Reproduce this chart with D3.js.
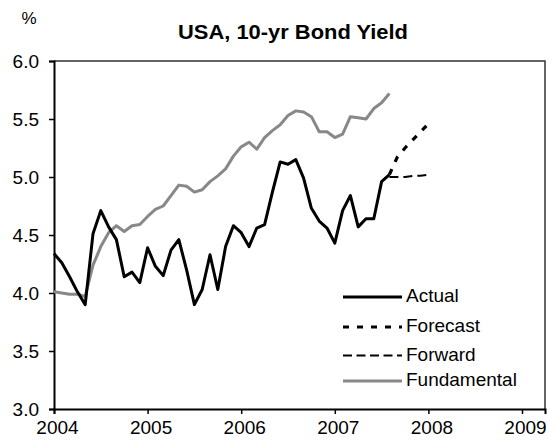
<!DOCTYPE html>
<html>
<head>
<meta charset="utf-8">
<script src="https://cdn.jsdelivr.net/npm/d3@7"></script>
<style>
  body { margin: 0; background: #fff; }
  svg { font-family: "Liberation Sans", Arial, sans-serif; }
</style>
</head>
<body>
<svg id="chart" width="548" height="445"></svg>
<script>
// monthly observations, Jan 2004 onwards
const startYear = 2004;
const actual = [4.34, 4.26, 4.14, 4.01, 3.90, 4.51, 4.71, 4.57, 4.46, 4.14, 4.18, 4.09,
                4.39, 4.23, 4.15, 4.37, 4.46, 4.20, 3.90, 4.03, 4.33, 4.03, 4.40, 4.58,
                4.52, 4.40, 4.56, 4.59, 4.87, 5.13, 5.11, 5.15, 4.99, 4.73, 4.62, 4.56,
                4.43, 4.71, 4.84, 4.57, 4.64, 4.64, 4.96, 5.02];
const fundamental = [4.01, 4.00, 3.99, 3.99, 3.97, 4.24, 4.40, 4.52, 4.58, 4.53, 4.58, 4.59,
                     4.66, 4.72, 4.75, 4.84, 4.93, 4.92, 4.87, 4.89, 4.96, 5.01, 5.07, 5.18,
                     5.26, 5.30, 5.24, 5.34, 5.40, 5.45, 5.53, 5.57, 5.56, 5.52, 5.39, 5.39,
                     5.34, 5.37, 5.52, 5.51, 5.50, 5.59, 5.64, 5.72];
// Aug 2007 .. Jan 2008
const projStart = 43;
const forecast = [5.02, 5.17, 5.25, 5.32, 5.39, 5.46];
const forward = [5.00, 5.00, 5.00, 5.01, 5.01, 5.02];

const yearTicks = [2004, 2005, 2006, 2007, 2008, 2009];
const valueTicks = [3.0, 3.5, 4.0, 4.5, 5.0, 5.5, 6.0];

const svg = d3.select("#chart");
const margin = {top: 61, right: 3, bottom: 36, left: 54};
const width = 548 - margin.left - margin.right;
const height = 445 - margin.top - margin.bottom;

const x = d3.scaleLinear().domain([2004, 2009 + 23 / 93.6]).range([0, width]);
const y = d3.scaleLinear().domain([3, 6]).range([height, 0]);

const g = svg.append("g").attr("transform", "translate(" + margin.left + "," + margin.top + ")");

const toPoints = (vals, offset) => vals.map((v, i) => [startYear + (i + offset) / 12, v]);
const line = d3.line().x(d => x(d[0])).y(d => y(d[1]));

// plot frame (top and right)
g.append("path")
    .attr("d", "M0,0H" + width + "V" + height)
    .attr("fill", "none")
    .attr("stroke", "#333")
    .attr("stroke-width", 1.5);

const xAxis = g.append("g")
    .attr("transform", "translate(0," + height + ")")
    .call(d3.axisBottom(x).tickValues(yearTicks).tickFormat(d3.format("d")).tickSize(5).tickPadding(4));
const yAxis = g.append("g")
    .call(d3.axisLeft(y).tickValues(valueTicks).tickFormat(d3.format(".1f")).tickSize(5).tickPadding(10));

[xAxis, yAxis].forEach(a => {
    a.select(".domain").attr("stroke", "#000").attr("stroke-width", 2);
    a.selectAll(".tick line").attr("stroke", "#000").attr("stroke-width", 1.5);
    a.selectAll("text").attr("font-size", 19).attr("fill", "#000")
        .attr("font-family", "'Liberation Sans', Arial, sans-serif");
});
xAxis.selectAll("text").attr("dy", "0.85em").attr("dx", 3);

// series
g.append("path").datum(toPoints(fundamental, 0))
    .attr("fill", "none").attr("stroke", "#888").attr("stroke-width", 3)
    .attr("stroke-linejoin", "round").attr("d", line);
g.append("path").datum(toPoints(forward, projStart))
    .attr("fill", "none").attr("stroke", "#000").attr("stroke-width", 2)
    .attr("stroke-dasharray", "9,5").attr("d", line);
g.append("path").datum(toPoints(forecast, projStart))
    .attr("fill", "none").attr("stroke", "#000").attr("stroke-width", 3.2)
    .attr("stroke-dasharray", "6,8").attr("d", line);
g.append("path").datum(toPoints(actual, 0))
    .attr("fill", "none").attr("stroke", "#000").attr("stroke-width", 3)
    .attr("stroke-linejoin", "round").attr("d", line);

// legend
const legendItems = [
    {name: "Actual", color: "#000", width: 3, dash: null},
    {name: "Forecast", color: "#000", width: 3, dash: "6,8"},
    {name: "Forward", color: "#000", width: 2, dash: "9,4.5"},
    {name: "Fundamental", color: "#888", width: 3, dash: null}
];
const legendY = [0, 30, 58.5, 84];
const legend = svg.append("g").attr("transform", "translate(343,297)");
const rows = legend.selectAll("g").data(legendItems).enter().append("g")
    .attr("transform", (d, i) => "translate(0," + legendY[i] + ")");
rows.append("line")
    .attr("x1", 0).attr("x2", 59).attr("y1", 0).attr("y2", 0)
    .attr("stroke", d => d.color).attr("stroke-width", d => d.width)
    .attr("stroke-dasharray", d => d.dash);
rows.append("text")
    .attr("x", 63).attr("y", 5)
    .attr("font-size", 19)
    .text(d => d.name);

// title and unit
svg.append("text")
    .attr("x", 293).attr("y", 39)
    .attr("text-anchor", "middle")
    .attr("font-size", 20).attr("font-weight", "bold")
    .attr("textLength", 230).attr("lengthAdjust", "spacingAndGlyphs")
    .text("USA, 10-yr Bond Yield");
svg.append("text")
    .attr("x", 29).attr("y", 24)
    .attr("text-anchor", "middle")
    .attr("font-size", 17)
    .text("%");
</script>
</body>
</html>
